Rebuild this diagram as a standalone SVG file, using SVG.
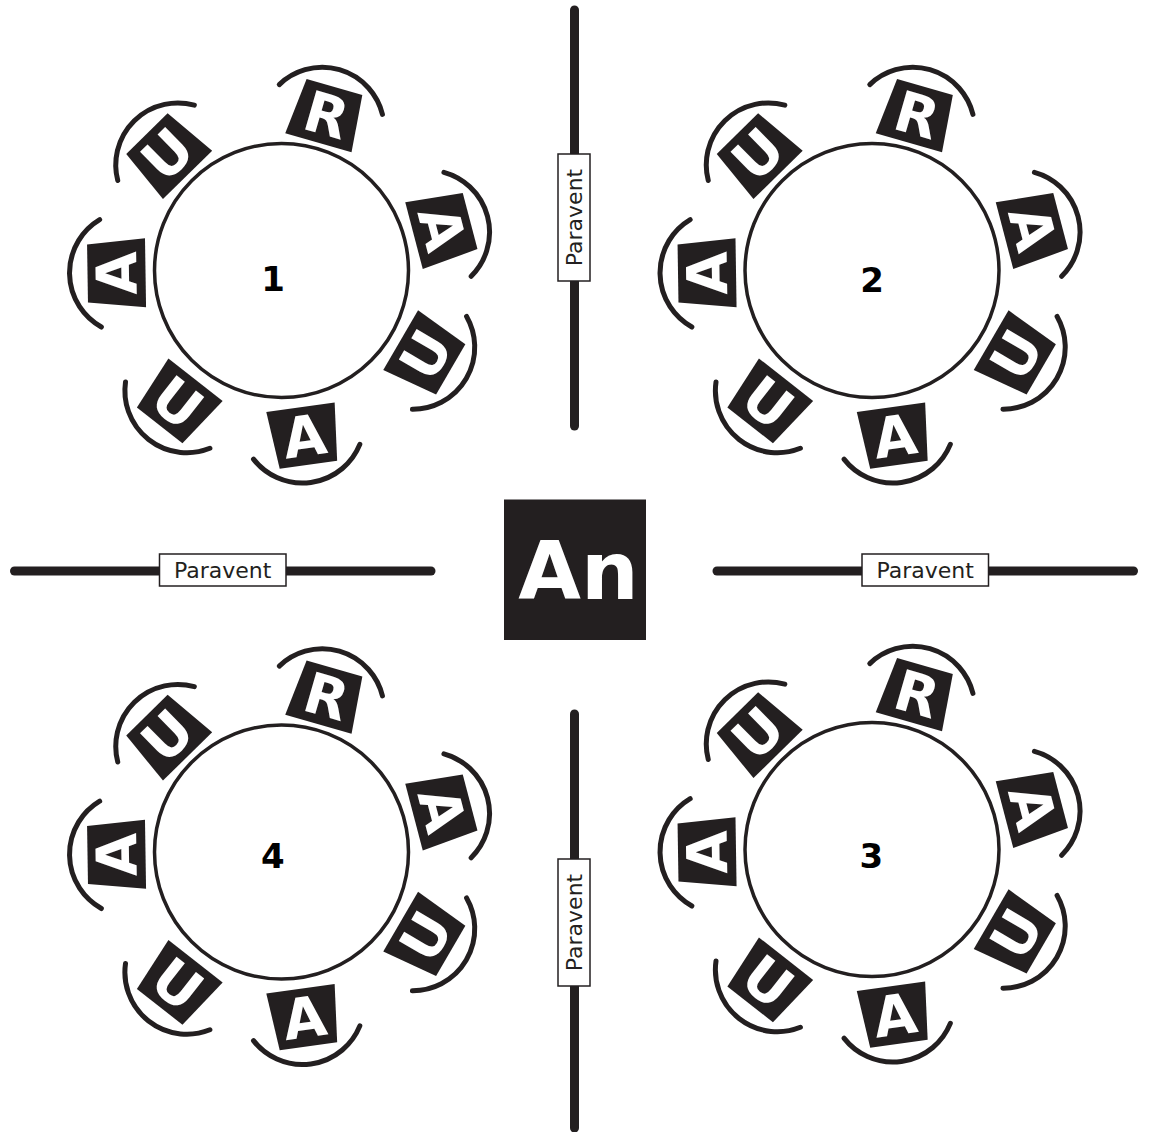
<svg xmlns="http://www.w3.org/2000/svg" xmlns:xlink="http://www.w3.org/1999/xlink" width="1149" height="1132" viewBox="0 0 1149 1132">
<style>
.tbl{fill:#fff;stroke:#231f20;stroke-width:3.5}
.num{font-family:"DejaVu Sans",Verdana,sans-serif;font-weight:bold;font-size:34px;fill:#000;text-anchor:middle}
.let{font-family:"DejaVu Sans",Verdana,sans-serif;font-weight:bold;font-size:56px;fill:#fff;text-anchor:middle}
.pline{stroke:#231f20;stroke-width:9;stroke-linecap:round;fill:none}
.pbox{fill:#fff;stroke:#231f20;stroke-width:1.5}
.ptxt{font-family:"DejaVu Sans",Verdana,sans-serif;font-size:22px;fill:#231f20;text-anchor:middle}
</style>
<defs>
<path id="seat" d="M-29,-29 L29,-29 L34.5,29 L-34.5,29 Z" fill="#231f20"/>
<path id="back" d="M-53.69,-16 A62,62 0 0 1 53.69,-16" fill="none" stroke="#231f20" stroke-width="5" stroke-linecap="round"/>
<g id="chairs">
</g>
</defs>
<rect width="1149" height="1132" fill="#fff"/>

<g id="table1" transform="translate(281.5,270.5)">
<circle class="tbl" r="127"/>
<g id="t1-c1" transform="rotate(-73.9) translate(162 0) rotate(90)"><use href="#back"/><use href="#seat"/><text class="let" y="20">R</text></g>
<g id="t1-c2" transform="rotate(-14.7) translate(166 0) rotate(90)"><use href="#back"/><use href="#seat"/><text class="let" y="20">A</text></g>
<g id="t1-c3" transform="rotate(30.3) translate(167 0) rotate(90)"><use href="#back"/><use href="#seat"/><text class="let" y="20" transform="rotate(180)">U</text></g>
<g id="t1-c4" transform="rotate(82.1) translate(167 0) rotate(90)"><use href="#back"/><use href="#seat"/><text class="let" y="20" transform="rotate(180)">A</text></g>
<g id="t1-c5" transform="rotate(128.2) translate(168 0) rotate(90)"><use href="#back"/><use href="#seat"/><text class="let" y="20" transform="rotate(180)">U</text></g>
<g id="t1-c6" transform="rotate(179.1) translate(165 0) rotate(90)"><use href="#back"/><use href="#seat"/><text class="let" y="20">A</text></g>
<g id="t1-c7" transform="rotate(225.5) translate(163 0) rotate(90)"><use href="#back"/><use href="#seat"/><text class="let" y="20">U</text></g>
<text class="num" x="-8.5" y="20.2">1</text>
</g>

<g id="table2" transform="translate(872,270.5)">
<circle class="tbl" r="127"/>
<g id="t2-c1" transform="rotate(-73.9) translate(162 0) rotate(90)"><use href="#back"/><use href="#seat"/><text class="let" y="20">R</text></g>
<g id="t2-c2" transform="rotate(-14.7) translate(166 0) rotate(90)"><use href="#back"/><use href="#seat"/><text class="let" y="20">A</text></g>
<g id="t2-c3" transform="rotate(30.3) translate(167 0) rotate(90)"><use href="#back"/><use href="#seat"/><text class="let" y="20" transform="rotate(180)">U</text></g>
<g id="t2-c4" transform="rotate(82.1) translate(167 0) rotate(90)"><use href="#back"/><use href="#seat"/><text class="let" y="20" transform="rotate(180)">A</text></g>
<g id="t2-c5" transform="rotate(128.2) translate(168 0) rotate(90)"><use href="#back"/><use href="#seat"/><text class="let" y="20" transform="rotate(180)">U</text></g>
<g id="t2-c6" transform="rotate(179.1) translate(165 0) rotate(90)"><use href="#back"/><use href="#seat"/><text class="let" y="20">A</text></g>
<g id="t2-c7" transform="rotate(225.5) translate(163 0) rotate(90)"><use href="#back"/><use href="#seat"/><text class="let" y="20">U</text></g>
<text class="num" x="0" y="21.2">2</text>
</g>

<g id="table3" transform="translate(872,849.5)">
<circle class="tbl" r="127"/>
<g id="t3-c1" transform="rotate(-73.9) translate(162 0) rotate(90)"><use href="#back"/><use href="#seat"/><text class="let" y="20">R</text></g>
<g id="t3-c2" transform="rotate(-14.7) translate(166 0) rotate(90)"><use href="#back"/><use href="#seat"/><text class="let" y="20">A</text></g>
<g id="t3-c3" transform="rotate(30.3) translate(167 0) rotate(90)"><use href="#back"/><use href="#seat"/><text class="let" y="20" transform="rotate(180)">U</text></g>
<g id="t3-c4" transform="rotate(82.1) translate(167 0) rotate(90)"><use href="#back"/><use href="#seat"/><text class="let" y="20" transform="rotate(180)">A</text></g>
<g id="t3-c5" transform="rotate(128.2) translate(168 0) rotate(90)"><use href="#back"/><use href="#seat"/><text class="let" y="20" transform="rotate(180)">U</text></g>
<g id="t3-c6" transform="rotate(179.1) translate(165 0) rotate(90)"><use href="#back"/><use href="#seat"/><text class="let" y="20">A</text></g>
<g id="t3-c7" transform="rotate(225.5) translate(163 0) rotate(90)"><use href="#back"/><use href="#seat"/><text class="let" y="20">U</text></g>
<text class="num" x="-0.8" y="18.2">3</text>
</g>

<g id="table4" transform="translate(281.5,852)">
<circle class="tbl" r="127"/>
<g id="t4-c1" transform="rotate(-73.9) translate(162 0) rotate(90)"><use href="#back"/><use href="#seat"/><text class="let" y="20">R</text></g>
<g id="t4-c2" transform="rotate(-14.7) translate(166 0) rotate(90)"><use href="#back"/><use href="#seat"/><text class="let" y="20">A</text></g>
<g id="t4-c3" transform="rotate(30.3) translate(167 0) rotate(90)"><use href="#back"/><use href="#seat"/><text class="let" y="20" transform="rotate(180)">U</text></g>
<g id="t4-c4" transform="rotate(82.1) translate(167 0) rotate(90)"><use href="#back"/><use href="#seat"/><text class="let" y="20" transform="rotate(180)">A</text></g>
<g id="t4-c5" transform="rotate(128.2) translate(168 0) rotate(90)"><use href="#back"/><use href="#seat"/><text class="let" y="20" transform="rotate(180)">U</text></g>
<g id="t4-c6" transform="rotate(179.1) translate(165 0) rotate(90)"><use href="#back"/><use href="#seat"/><text class="let" y="20">A</text></g>
<g id="t4-c7" transform="rotate(225.5) translate(163 0) rotate(90)"><use href="#back"/><use href="#seat"/><text class="let" y="20">U</text></g>
<text class="num" x="-8.8" y="16.3">4</text>
</g>

<g id="paravent-top">
<line class="pline" x1="574.5" y1="10" x2="574.5" y2="426"/>
<rect class="pbox" x="558" y="154" width="32" height="127"/>
<text class="ptxt" transform="translate(581.5,217.5) rotate(-90)">Paravent</text>
</g>
<g id="paravent-left">
<line class="pline" x1="14.5" y1="571" x2="431" y2="571"/>
<rect class="pbox" x="159.5" y="554" width="126.5" height="32"/>
<text class="ptxt" x="222.7" y="578">Paravent</text>
</g>
<g id="paravent-right">
<line class="pline" x1="717" y1="571" x2="1133.5" y2="571"/>
<rect class="pbox" x="862" y="554" width="126.5" height="32"/>
<text class="ptxt" x="925.2" y="578">Paravent</text>
</g>
<g id="paravent-bottom">
<line class="pline" x1="574.5" y1="714" x2="574.5" y2="1128"/>
<rect class="pbox" x="558" y="859" width="32" height="127"/>
<text class="ptxt" transform="translate(581.5,922.5) rotate(-90)">Paravent</text>
</g>

<g id="animator">
<rect x="504" y="499.5" width="142" height="140.5" fill="#231f20"/>
<text x="578.5" y="598.5" font-family="DejaVu Sans, Verdana, sans-serif" font-weight="bold" font-size="81" fill="#fff" text-anchor="middle">An</text>
</g>
</svg>
